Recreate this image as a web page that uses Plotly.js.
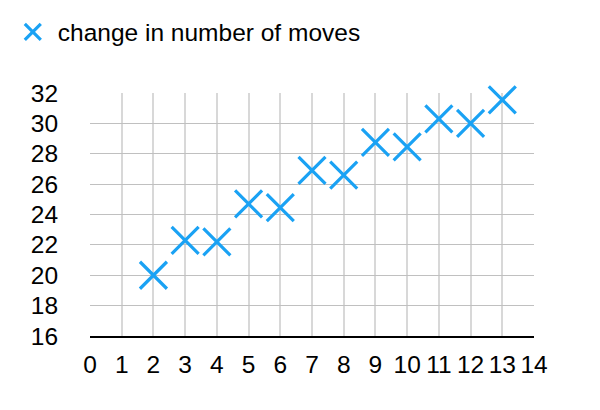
<!DOCTYPE html>
<html>
<head>
<meta charset="utf-8">
<script src="https://cdn.plot.ly/plotly-3.0.1.min.js"></script>
<style>
  html, body { margin: 0; padding: 0; background: #fff; }
  #chart { width: 600px; height: 410px; }
</style>
</head>
<body>
<div id="chart"></div>
<script>
// Moves data: x position and change in number of moves
const xValues = [2, 3, 4, 5, 6, 7, 8, 9, 10, 11, 12, 13];
const moveChanges = [20.0, 22.3, 22.2, 24.7, 24.45, 26.9, 26.6, 28.75, 28.45, 30.3, 30.0, 31.55];
const seriesName = 'change in number of moves';

const xTicks = [0, 1, 2, 3, 4, 5, 6, 7, 8, 9, 10, 11, 12, 13, 14];
const yTicks = [16, 18, 20, 22, 24, 26, 28, 30, 32];

const FONT = '"Liberation Sans", Arial, Helvetica, sans-serif';
const BLUE = '#1aa2f4';
const CLEAR = 'rgba(0,0,0,0)';

const trace = {
  type: 'scatter',
  mode: 'markers',
  name: seriesName,
  x: xValues,
  y: moveChanges,
  cliponaxis: false,
  marker: {
    symbol: 'x-thin',
    size: 27,
    color: BLUE,
    line: { color: BLUE, width: 3.2 }
  },
  showlegend: true
};

const layout = {
  width: 600,
  height: 410,
  margin: { l: 90, r: 66, t: 93, b: 74 },
  paper_bgcolor: '#fff',
  plot_bgcolor: '#fff',
  font: { family: FONT, size: 25, color: '#000' },
  showlegend: true,
  legend: {
    xref: 'container', yref: 'container',
    x: 0.013, y: 1 - 32 / 410,
    xanchor: 'left', yanchor: 'middle',
    orientation: 'h',
    itemwidth: 40,
    font: { family: FONT, size: 24.5, color: '#000' },
    bgcolor: CLEAR
  },
  xaxis: {
    range: [0, 14],
    tickmode: 'array',
    tickvals: xTicks,
    ticktext: xTicks.map(String),
    showgrid: true,
    gridcolor: '#d8d8d8',
    gridwidth: 2,
    zeroline: false,
    showline: true,
    linecolor: '#000',
    linewidth: 2,
    ticks: 'outside',
    ticklen: 6,
    tickcolor: CLEAR,
    tickfont: { family: FONT, size: 24.5, color: '#000' },
    fixedrange: true
  },
  yaxis: {
    range: [16, 32],
    tickmode: 'array',
    tickvals: yTicks,
    ticktext: yTicks.map(String),
    showgrid: true,
    gridcolor: '#c0c0c0',
    gridwidth: 1,
    zeroline: false,
    showline: false,
    ticks: 'outside',
    ticklen: 26,
    tickcolor: CLEAR,
    tickfont: { family: FONT, size: 24.5, color: '#000' },
    fixedrange: true
  }
};

Plotly.newPlot('chart', [trace], layout, { displayModeBar: false, staticPlot: true });
</script>
</body>
</html>
